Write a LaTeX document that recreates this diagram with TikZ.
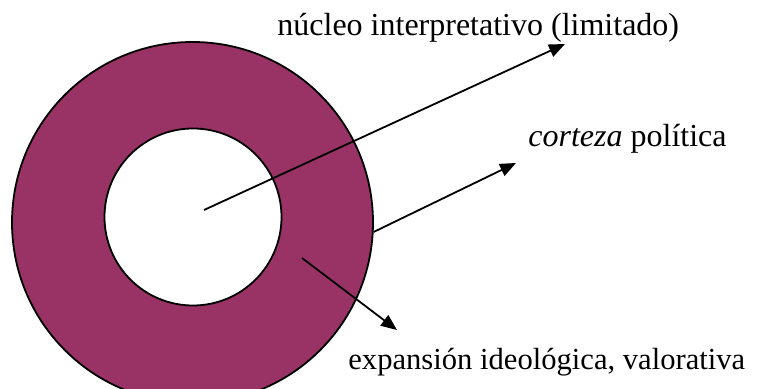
\documentclass[tikz,border=0pt]{standalone}
\usepackage{fontspec}
\setmainfont{Liberation Serif}
\usetikzlibrary{arrows.meta}
\definecolor{ringpurple}{HTML}{993366}
\begin{document}
\begin{tikzpicture}[x=0.5pt,y=-0.5pt,
  ring/.style={circle,draw=black,line width=0.9pt,inner sep=0pt},
  lbl/.style={anchor=base west,inner sep=0pt,font=\fontsize{16}{19}\selectfont},
  arr/.style={line width=0.9pt,-{Triangle[length=8pt,width=6.5pt]}}]
\useasboundingbox (0,0) rectangle (767,389);
\clip (0,0) rectangle (767,389);
\node[ring,fill=ringpurple,minimum size=180.5pt] (outer) at (192.5,222.5) {};
\node[ring,fill=white,minimum size=88.5pt] (inner) at (193,217) {};
\node[lbl] (t1) at (277,36) {núcleo interpretativo (limitado)};
\node[lbl] (t2) at (528,147) {\textit{corteza} política};
\node[lbl,font=\fontsize{15.3}{18}\selectfont] (t3) at (348,370) {expansión ideológica, valorativa};
\coordinate (s1) at (204,210);
\coordinate (e1) at (565,44);
\coordinate (e2) at (516,163);
\coordinate (s3) at (302,258);
\coordinate (e3) at (397,330);
\draw[arr] (s1) -- (e1);
\draw[arr] (outer.-3.3) -- (e2);
\draw[arr] (s3) -- (e3);
\end{tikzpicture}
\end{document}
